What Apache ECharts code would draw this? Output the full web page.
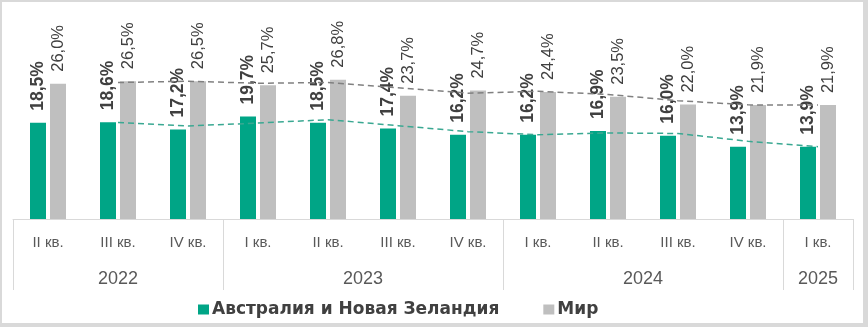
<!DOCTYPE html>
<html>
<head>
<meta charset="utf-8">
<script src="https://cdn.jsdelivr.net/npm/echarts@6/dist/echarts.min.js"></script>
<style>
  html, body { margin: 0; padding: 0; background: #ffffff; }
  #wrap { position: absolute; left: 0; top: 0; width: 868px; height: 327px; box-sizing: border-box;
          border-style: solid; border-color: #d9d9d9; border-width: 2px 5px 4px 2px; }
  #chart { position: absolute; left: 0; top: 0; width: 868px; height: 327px; }
</style>
</head>
<body>
<div id="wrap"></div>
<div id="chart"></div>
<script>
// ---- data ----
const quarters = ['II кв.', 'III кв.', 'IV кв.', 'I кв.', 'II кв.', 'III кв.', 'IV кв.', 'I кв.', 'II кв.', 'III кв.', 'IV кв.', 'I кв.'];
const years = ['2022', '2023', '2024', '2025'];
const yearQuarterCounts = [3, 4, 4, 1];
const anzValues = [18.5, 18.6, 17.2, 19.7, 18.5, 17.4, 16.2, 16.2, 16.9, 16.0, 13.9, 13.9];
const worldValues = [26.0, 26.5, 26.5, 25.7, 26.8, 23.7, 24.7, 24.4, 23.5, 22.0, 21.9, 21.9];
// dashed trend lines
const anzTrend = [null, 18.55, 17.9, 18.45, 19.1, 17.95, 16.8, 16.2, 16.55, 16.45, 14.95, 13.9];
const worldTrend = [null, 26.25, 26.5, 26.1, 26.25, 25.25, 24.2, 24.55, 23.95, 22.75, 21.95, 21.9];
const seriesNames = ['Австралия и Новая Зеландия', 'Мир'];

// ---- build half-step axis for year labels and group separators ----
const halfSlots = [];
const separatorIdx = [0];
const yearLabelAt = {};
let pos = 0;
yearQuarterCounts.forEach(function (n, i) {
  yearLabelAt[pos + n] = years[i];   // centre of group in half-category units
  pos += 2 * n;
  separatorIdx.push(pos);
});
for (let k = 0; k <= pos; k++) halfSlots.push(yearLabelAt[k] || '');

const fmt = function (v) { return v.toFixed(1).replace('.', ',') + '%'; };
const FONT = "'Liberation Sans', Arial, sans-serif";
const LFONT = "'DejaVu Sans', sans-serif";

const chart = echarts.init(document.getElementById('chart'), null, { renderer: 'canvas' });
chart.setOption({
  animation: false,
  grid: { left: 13, right: 15, top: 11, bottom: 108, containLabel: false },
  legend: {
    data: seriesNames,
    left: 193, top: 296,
    icon: 'rect', itemWidth: 11, itemHeight: 10, itemGap: 44,
    textStyle: { fontFamily: LFONT, fontWeight: 'bold', fontSize: 17, color: '#404040', padding: [0, 0, 0, -2] }
  },
  xAxis: [
    {
      type: 'category', data: quarters, position: 'bottom',
      axisLine: { show: true, lineStyle: { color: '#d9d9d9', width: 1 } },
      axisTick: { show: false },
      axisLabel: { interval: 0, margin: 16, fontFamily: FONT, fontSize: 15, color: '#595959' }
    },
    {
      type: 'category', data: halfSlots, position: 'bottom', boundaryGap: false,
      axisLine: { show: false },
      axisTick: { show: true, length: 71, interval: function (i) { return separatorIdx.indexOf(i) >= 0; },
                  lineStyle: { color: '#d9d9d9', width: 1 } },
      axisLabel: { interval: function (i, v) { return v !== ''; }, margin: 51,
                   fontFamily: FONT, fontSize: 18, color: '#595959' }
    }
  ],
  yAxis: { type: 'value', min: 0, max: 40, show: false, splitLine: { show: false } },
  series: [
    {
      name: seriesNames[0], type: 'bar', xAxisIndex: 0, data: anzValues,
      barWidth: 16, barGap: '25%',
      itemStyle: { color: '#00a586' },
      label: { show: true, position: 'top', distance: 12, rotate: 90, align: 'left', verticalAlign: 'middle',
               formatter: function (p) { return fmt(p.value); },
               fontFamily: FONT, fontWeight: 'bold', fontSize: 17.5, color: '#404040' }
    },
    {
      name: seriesNames[1], type: 'bar', xAxisIndex: 0, data: worldValues,
      barWidth: 16, barGap: '25%',
      itemStyle: { color: '#bfbfbf' },
      label: { show: true, position: 'top', distance: 12, rotate: 90, align: 'left', verticalAlign: 'middle',
               formatter: function (p) { return fmt(p.value); },
               fontFamily: FONT, fontSize: 16.5, color: '#404040' }
    },
    {
      name: 'anzTrend', type: 'line', xAxisIndex: 0, data: anzTrend, symbol: 'none', silent: true,
      lineStyle: { color: '#3aa892', width: 1.5, type: [6, 4] }, z: 5
    },
    {
      name: 'worldTrend', type: 'line', xAxisIndex: 0, data: worldTrend, symbol: 'none', silent: true,
      lineStyle: { color: '#808080', width: 1.5, type: [6, 4] }, z: 5
    }
  ]
});
</script>
</body>
</html>
